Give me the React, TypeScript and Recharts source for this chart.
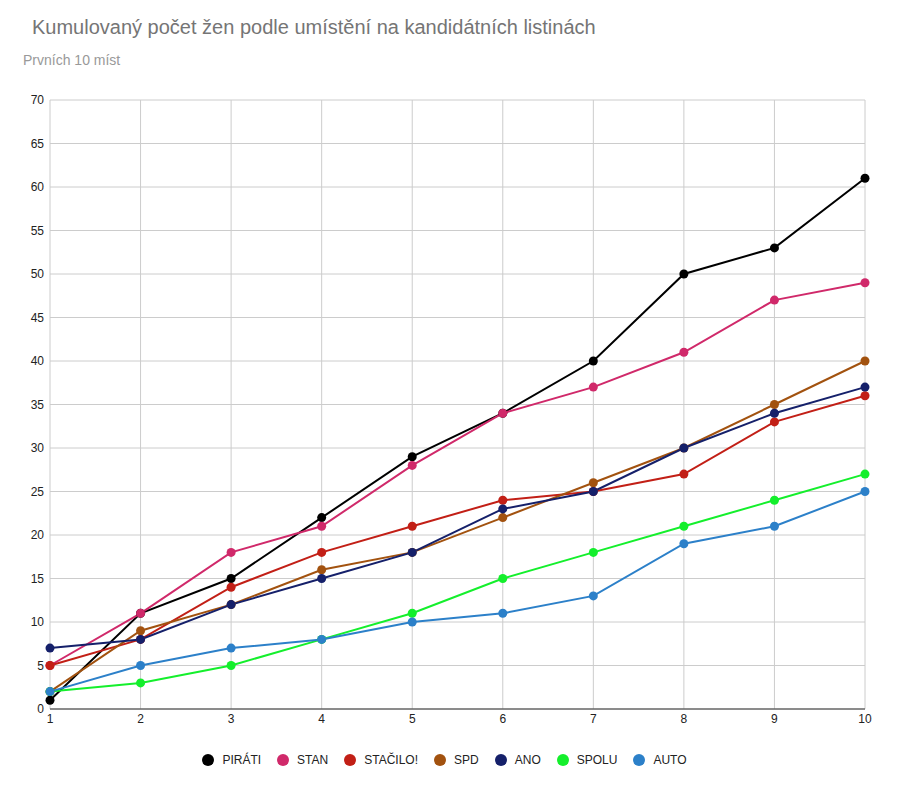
import React from "react";
import { LineChart, Line, XAxis, YAxis, CartesianGrid, Legend } from "recharts";

const positions = [1, 2, 3, 4, 5, 6, 7, 8, 9, 10];
const pirati = [1, 11, 15, 22, 29, 34, 40, 50, 53, 61];
const stan = [5, 11, 18, 21, 28, 34, 37, 41, 47, 49];
const stacilo = [5, 8, 14, 18, 21, 24, 25, 27, 33, 36];
const spd = [2, 9, 12, 16, 18, 22, 26, 30, 35, 40];
const ano = [7, 8, 12, 15, 18, 23, 25, 30, 34, 37];
const spolu = [2, 3, 5, 8, 11, 15, 18, 21, 24, 27];
const auto = [2, 5, 7, 8, 10, 11, 13, 19, 21, 25];
const yTicks = [0, 5, 10, 15, 20, 25, 30, 35, 40, 45, 50, 55, 60, 65, 70];

const series = [
  { key: "PIRÁTI", values: pirati, color: "#000000" },
  { key: "STAN", values: stan, color: "#d0296a" },
  { key: "STAČILO!", values: stacilo, color: "#c21f16" },
  { key: "SPD", values: spd, color: "#a2520f" },
  { key: "ANO", values: ano, color: "#15206a" },
  { key: "SPOLU", values: spolu, color: "#14ef2c" },
  { key: "AUTO", values: auto, color: "#2c80c9" },
];

const data = positions.map((p, i) => {
  const row: Record<string, number> = { pos: p };
  series.forEach((s) => {
    row[s.key] = s.values[i];
  });
  return row;
});

const FONT = "'Liberation Sans', Arial, sans-serif";

const renderLegend = () => {
  return (
    <div style={{ display: "flex", justifyContent: "center", alignItems: "center", fontFamily: FONT, fontSize: 12, color: "#222", height: 20 }}>
      {series.map((s, i) => (
        <div key={s.key} style={{ display: "flex", alignItems: "center", marginRight: i === series.length - 1 ? 0 : 16 }}>
          <span style={{ display: "inline-block", width: 12, height: 12, borderRadius: 6, background: s.color, marginRight: 8 }} />
          <span>{s.key}</span>
        </div>
      ))}
    </div>
  );
};

export default function App() {
  return (
    <div style={{ position: "absolute", left: 0, top: 0, width: 905, height: 786, background: "#fff", fontFamily: FONT }}>
      <div style={{ position: "absolute", left: 32, top: 16, fontSize: 20, color: "#757575", whiteSpace: "nowrap" }}>
        Kumulovaný počet žen podle umístění na kandidátních listinách
      </div>
      <div style={{ position: "absolute", left: 23, top: 52, fontSize: 14, color: "#999", whiteSpace: "nowrap" }}>
        Prvních 10 míst
      </div>
      <div style={{ position: "absolute", left: 0, top: 0 }}>
        <LineChart width={905} height={786} data={data} margin={{ top: 100, right: 40, bottom: 10, left: 0 }}>
          <CartesianGrid stroke="#cccccc" strokeWidth={1} />
          <XAxis
            dataKey="pos"
            type="number"
            domain={[1, 10]}
            ticks={positions}
            interval={0}
            tickSize={0}
            tickMargin={5}
            height={47}
            axisLine={{ stroke: "#333333", strokeWidth: 1 }}
            tick={{ fontSize: 12, fill: "#222", fontFamily: FONT }}
          />
          <YAxis
            type="number"
            domain={[0, 70]}
            ticks={yTicks}
            interval={0}
            width={50}
            tickSize={0}
            tickMargin={6}
            axisLine={false}
            tick={{ fontSize: 12, fill: "#222", fontFamily: FONT }}
          />
          <Legend verticalAlign="bottom" height={20} content={renderLegend} wrapperStyle={{ left: 0, width: 889, bottom: 16 }} />
          {series.map((s) => (
            <Line
              key={s.key}
              type="linear"
              dataKey={s.key}
              stroke={s.color}
              strokeWidth={2}
              dot={{ r: 4.5, fill: s.color, stroke: s.color, strokeWidth: 0 }}
              activeDot={false}
              isAnimationActive={false}
            />
          ))}
        </LineChart>
      </div>
    </div>
  );
}
